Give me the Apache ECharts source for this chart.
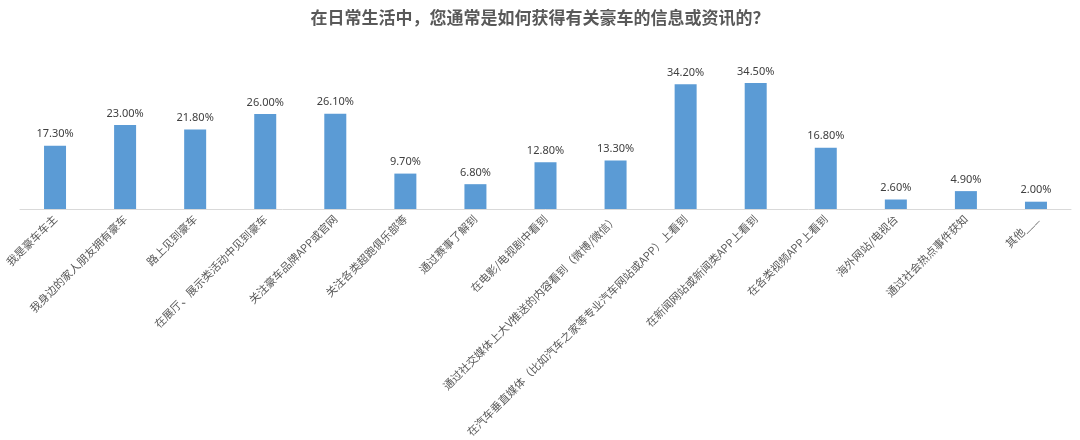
<!DOCTYPE html>
<html><head><meta charset="utf-8">
<script src="https://cdn.jsdelivr.net/npm/echarts@6/dist/echarts.min.js"></script>
<style>html,body{margin:0;padding:0;background:#fff}#c{width:1080px;height:440px}</style>
</head><body><div id="c"></div>
<script>
const titleText = '在日常生活中，您通常是如何获得有关豪车的信息或资讯的？';
const categories = ['我是豪车车主','我身边的家人朋友拥有豪车','路上见到豪车','在展厅、展示类活动中见到豪车','关注豪车品牌APP或官网','关注各类超跑俱乐部等','通过赛事了解到','在电影/电视剧中看到','通过社交媒体上大V推送的内容看到（微博/微信）','在汽车垂直媒体（比如汽车之家等专业汽车网站或APP）上看到','在新闻网站或新闻类APP上看到','在各类视频APP上看到','海外网站/电视台','通过社会热点事件获知','其他___'];
const values = [17.3,23.0,21.8,26.0,26.1,9.7,6.8,12.8,13.3,34.2,34.5,16.8,2.6,4.9,2.0];
const chart = echarts.init(document.getElementById('c'));
chart.setOption({
  animation:false,
  title:{text:titleText,left:'center',top:4,textStyle:{fontSize:17,fontWeight:'bold',color:'#595959',fontFamily:'Noto Sans CJK SC'}},
  grid:{left:20,right:9,top:63,bottom:231,containLabel:false},
  xAxis:{type:'category',data:categories,axisTick:{show:false},axisLine:{lineStyle:{color:'#d9d9d9'}},
    axisLabel:{rotate:45,interval:0,fontSize:11,color:'#595959',fontFamily:'Noto Sans CJK SC',margin:8}},
  yAxis:{type:'value',min:0,max:40,show:false,splitLine:{show:false}},
  series:[{type:'bar',data:values,barWidth:22,itemStyle:{color:'#5b9bd5'},
    label:{show:true,position:'top',distance:6,fontSize:11,color:'#404040',fontFamily:'Noto Sans',formatter:p=>p.value.toFixed(2)+'%'}}]
});
</script></body></html>
